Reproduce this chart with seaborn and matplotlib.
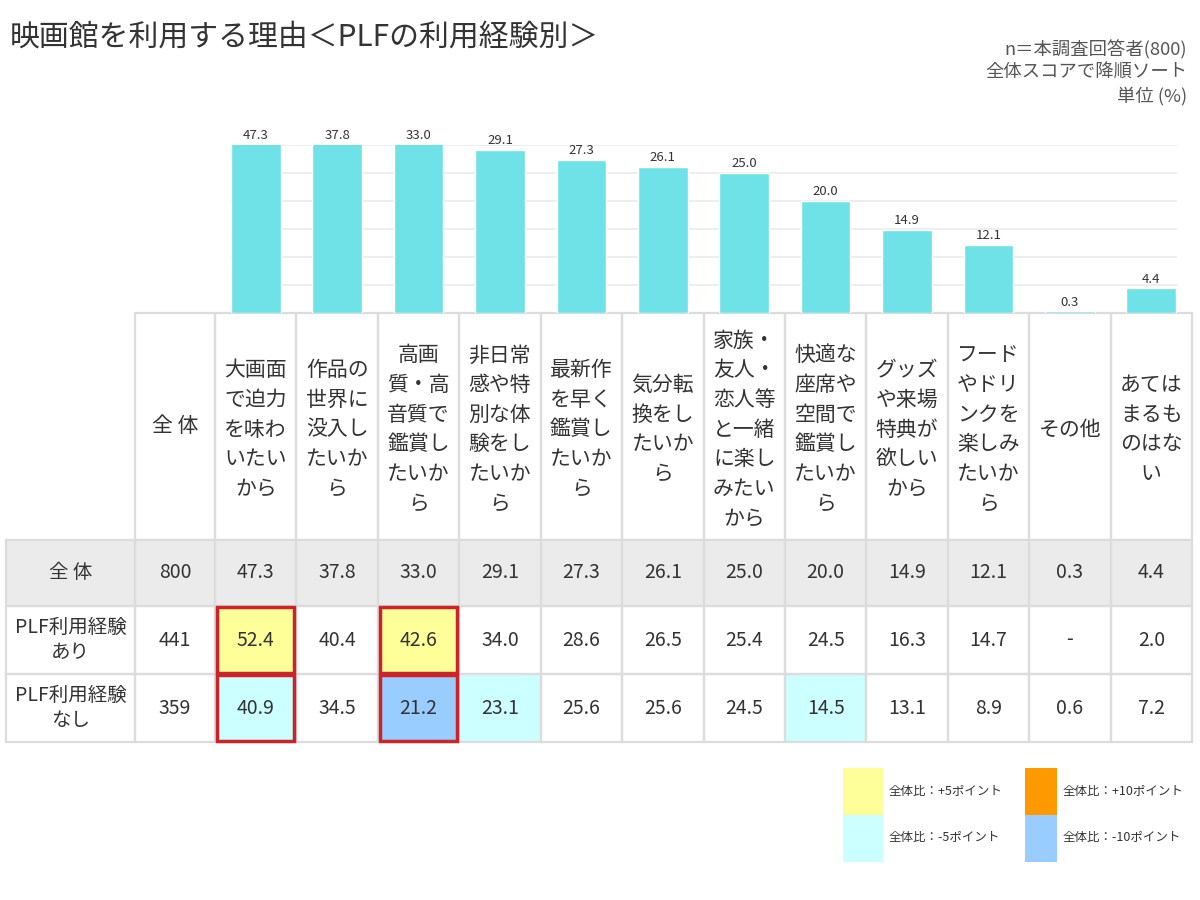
import numpy as np
import matplotlib
matplotlib.use("Agg")
import matplotlib.pyplot as plt
from matplotlib.patches import Rectangle
import seaborn as sns

# data
categories = [
    "大画面\nで迫力\nを味わ\nいたい\nから",
    "作品の\n世界に\n没入し\nたいか\nら",
    "高画\n質・高\n音質で\n鑑賞し\nたいか\nら",
    "非日常\n感や特\n別な体\n験をし\nたいか\nら",
    "最新作\nを早く\n鑑賞し\nたいか\nら",
    "気分転\n換をし\nたいか\nら",
    "家族・\n友人・\n恋人等\nと一緒\nに楽し\nみたい\nから",
    "快適な\n座席や\n空間で\n鑑賞し\nたいか\nら",
    "グッズ\nや来場\n特典が\n欲しい\nから",
    "フード\nやドリ\nンクを\n楽しみ\nたいか\nら",
    "その他",
    "あては\nまるも\nのはな\nい",
]
overall = [47.3, 37.8, 33.0, 29.1, 27.3, 26.1, 25.0, 20.0, 14.9, 12.1, 0.3, 4.4]
plf_yes = [52.4, 40.4, 42.6, 34.0, 28.6, 26.5, 25.4, 24.5, 16.3, 14.7, np.nan, 2.0]
plf_no = [40.9, 34.5, 21.2, 23.1, 25.6, 25.6, 24.5, 14.5, 13.1, 8.9, 0.6, 7.2]
row_labels = ["全 体", "PLF利用経験\nあり", "PLF利用経験\nなし"]
row_n = [800, 441, 359]
flagged = [(1, 0), (1, 2), (2, 0), (2, 2)]  # cells boxed in red
legend_labels = ["全体比：+5ポイント", "全体比：-5ポイント",
                 "全体比：+10ポイント", "全体比：-10ポイント"]

sns.set_style("white")
plt.rcParams["font.family"] = ["Noto Sans CJK JP", "DejaVu Sans"]

W, H = 1200, 900
fig = plt.figure(figsize=(12, 9), dpi=100, facecolor="white")

# layout in pixels
x_lab, x_n, x_cat, x_end = 6, 135, 215, 1192
col_w = (x_end - x_cat) / len(categories)
y_head, y_rows = 313, [540, 606, 674, 742]

# table layer (pixel coords)
tab = fig.add_axes([0, 0, 1, 1])
tab.set_xlim(0, W)
tab.set_ylim(H, 0)
tab.axis("off")

border = "#dcdcdc"
txt = "#333333"
blw = 1.6

# header row
tab.text((x_n + x_cat) / 2, (y_head + y_rows[0]) / 2, "全 体", ha="center",
         va="center", fontsize=15, color=txt)
tab.add_patch(Rectangle((x_n, y_head), x_cat - x_n, y_rows[0] - y_head,
                        facecolor="none", edgecolor=border, lw=blw))
for i, cat in enumerate(categories):
    x0 = x_cat + i * col_w
    tab.add_patch(Rectangle((x0, y_head), col_w, y_rows[0] - y_head,
                            facecolor="none", edgecolor=border, lw=blw))
    tab.text(x0 + col_w / 2, (y_head + y_rows[0]) / 2 + 3, cat, ha="center",
             va="center", multialignment="center", fontsize=15, color=txt,
             linespacing=1.45)


def cell_color(v, base):
    if np.isnan(v):
        return None
    d = v - base
    if d >= 10:
        return "#ff9900"
    if d >= 5:
        return "#ffff99"
    if d <= -10:
        return "#99ccff"
    if d <= -5:
        return "#ccffff"
    return None


rows = [overall, plf_yes, plf_no]
for r, vals in enumerate(rows):
    y0, y1 = y_rows[r], y_rows[r + 1]
    yc = (y0 + y1) / 2
    bg = "#ebebeb" if r == 0 else "white"
    tab.add_patch(Rectangle((x_lab, y0), x_end - x_lab, y1 - y0,
                            facecolor=bg, edgecolor="none", zorder=1))
    tab.add_patch(Rectangle((x_lab, y0), x_n - x_lab, y1 - y0,
                            facecolor="none", edgecolor=border, lw=blw, zorder=3))
    tab.add_patch(Rectangle((x_n, y0), x_cat - x_n, y1 - y0,
                            facecolor="none", edgecolor=border, lw=blw, zorder=3))
    tab.text((x_lab + x_n) / 2, yc, row_labels[r], ha="center", va="center",
             multialignment="center", fontsize=14, color=txt,
             linespacing=1.3, zorder=5)
    tab.text((x_n + x_cat) / 2, yc, str(row_n[r]), ha="center", va="center",
             fontsize=14, color=txt, zorder=5)
    for i, v in enumerate(vals):
        x0 = x_cat + i * col_w
        fc = cell_color(v, overall[i]) if r > 0 else None
        if fc:
            tab.add_patch(Rectangle((x0, y0), col_w, y1 - y0, facecolor=fc,
                                    edgecolor="none", zorder=2))
        tab.add_patch(Rectangle((x0, y0), col_w, y1 - y0, facecolor="none",
                                edgecolor=border, lw=blw, zorder=3))
        label = "-" if np.isnan(v) else f"{v:.1f}"
        tab.text(x0 + col_w / 2, yc, label, ha="center", va="center",
                 fontsize=14, color=txt, zorder=5)

for r, i in flagged:
    x0 = x_cat + i * col_w
    y0, y1 = y_rows[r], y_rows[r + 1]
    tab.add_patch(Rectangle((x0 + 2, y0 + 1), col_w - 4, y1 - y0 - 2,
                            facecolor="none", edgecolor="#cc2229", lw=2.5,
                            zorder=4))

# title and notes
tab.text(10, 38, "映画館を利用する理由＜PLFの利用経験別＞", ha="left",
         va="center", fontsize=21.5, color=txt)
tab.text(1187, 73, "n＝本調査回答者(800)\n全体スコアで降順ソート\n単位 (%)",
         ha="right", va="center", multialignment="right", fontsize=13.2,
         color="#555555", linespacing=1.3)

# legend
leg_colors = ["#ffff99", "#ccffff", "#ff9900", "#99ccff"]
leg_pos = [(843, 768, 40), (843, 815, 40), (1025, 768, 32), (1025, 815, 32)]
for (lx, ly, lw_), c, lab in zip(leg_pos, leg_colors, legend_labels):
    tab.add_patch(Rectangle((lx, ly), lw_, 47, facecolor=c, edgecolor="none"))
    tab.text(lx + lw_ + 6, ly + 23, lab, ha="left", va="center",
             fontsize=9, color=txt)

# bar chart on top of the category columns
ax = fig.add_axes([x_cat / W, 1 - y_head / H, (x_end - x_cat) / W, 168 / H])
ymax = 30
ax.hlines(np.arange(5, ymax + 1, 5), -0.31, len(categories) - 0.69,
          color="#ebebeb", lw=1.2, zorder=0)
sns.barplot(x=list(range(len(categories))), y=overall, color="#6fe2e7",
            saturation=1, width=0.61, ax=ax, zorder=2)
ax.set_xlim(-0.5, len(categories) - 0.5)
ax.set_ylim(0, ymax)
for i, v in enumerate(overall):
    ax.annotate(f"{v:.1f}", xy=(i, min(v, ymax)), xytext=(0, 2),
                textcoords="offset points", ha="center", va="bottom",
                fontsize=9.5, color=txt, annotation_clip=False)
ax.axis("off")
ax.patch.set_alpha(0)

fig.savefig("out.png", dpi=100, facecolor="white")
